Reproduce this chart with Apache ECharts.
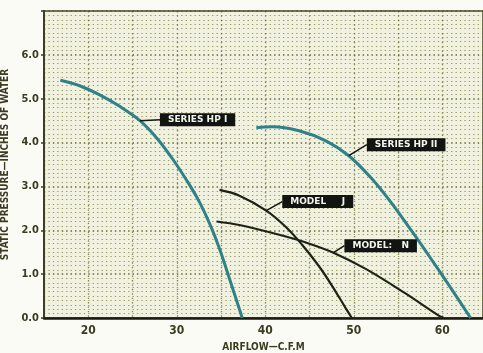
<!DOCTYPE html>
<html>
<head>
<meta charset="utf-8">
<script src="https://cdn.jsdelivr.net/npm/echarts@6/dist/echarts.min.js"></script>
<style>
html,body{margin:0;padding:0;background:#fbfbf6;}
#c{width:483px;height:353px;}
</style>
</head>
<body>
<div id="c"></div>
<script>
// ---- data ----
const xTickLabels = [20, 30, 40, 50, 60];
const yTickLabels = ['0.0','1.0','2.0','3.0','4.0','5.0','6.0'];

const hp1X = [16.85, 19.1, 21.35, 23.6, 25.84, 27.75, 29.55, 31.46, 32.6, 33.8, 34.9, 35.95, 37.4];
const hp1Y = [5.42, 5.29, 5.08, 4.82, 4.50, 4.10, 3.62, 3.03, 2.63, 2.11, 1.54, 0.90, 0.0];

const hp2X = [38.99, 40.79, 43.82, 46.85, 49.44, 52.02, 54.27, 56.52, 58.76, 61.01, 63.2];
const hp2Y = [4.34, 4.36, 4.27, 4.04, 3.70, 3.18, 2.62, 1.99, 1.34, 0.67, 0.0];

const modelJX = [34.83, 37.08, 40.11, 42.36, 44.16, 46.07, 47.53, 49.1, 49.78];
const modelJY = [2.92, 2.79, 2.45, 2.07, 1.67, 1.18, 0.74, 0.22, 0.0];

const modelNX = [34.49, 37.08, 41.91, 44.61, 47.7, 51.35, 55.84, 59.55, 60.2];
const modelNY = [2.20, 2.12, 1.88, 1.72, 1.49, 1.12, 0.56, 0.06, 0.0];

const labelNames = ['SERIES HP I', 'SERIES HP II', 'MODEL     J', 'MODEL:   N'];
const labelAnchorIdx = [4, 4, 2, 4];

// ---- chart ----
const chart = echarts.init(document.getElementById('c'), null, {renderer: 'canvas'});
const FONT = '"Liberation Sans Narrow", "DejaVu Sans Condensed", "Roboto", sans-serif';
const AXC = '#3b3b22';

function mk(xs, ys, li) {
  return xs.map((x, i) => {
    const item = {value: [x, ys[i]]};
    if (i === labelAnchorIdx[li]) {
      item.label = {
        show: true,
        formatter: labelNames[li],
        position: 'right',
        distance: 0,
        color: '#f4f4ee',
        backgroundColor: '#111410',
        fontFamily: '"DejaVu Sans", sans-serif',
        fontWeight: 'bold',
        fontSize: 9,
        lineHeight: 10,
        padding: [2, 8, 1, 8]
      };
    }
    return item;
  });
}

const layouts = [
  {dx: 20, dy: -1},
  {dx: 18, dy: -11},
  {dx: 16, dy: -9},
  {dx: 11, dy: -7}
];

function series(xs, ys, li, color, width) {
  return {
    type: 'line',
    data: mk(xs, ys, li),
    smooth: 0.35,
    symbol: 'circle',
    symbolSize: 0,
    showSymbol: true,
    showAllSymbol: true,
    lineStyle: {color: color, width: width},
    itemStyle: {color: color},
    labelLayout: layouts[li],
    labelLine: {show: true, lineStyle: {color: '#111410', width: 1.5}},
    emphasis: {disabled: true},
    z: 3
  };
}

const option = {
  animation: false,
  backgroundColor: '#fbfbf6',
  grid: {
    left: 44, right: 0, top: 11, bottom: 35,
    containLabel: false,
    outerBoundsMode: 'none',
    show: true, backgroundColor: '#f1f1e0',
    borderColor: '#4a4a2c', borderWidth: 1.5
  },
  xAxis: {
    type: 'value', min: 15, max: 64.6, interval: 5,
    name: 'AIRFLOW—C.F.M', nameLocation: 'middle', nameGap: 24,
    nameTextStyle: {fontFamily: FONT, fontWeight: 'bold', fontSize: 10, color: AXC},
    axisLine: {show: true, lineStyle: {color: '#1a1a10', width: 2.5}},
    axisTick: {show: false},
    axisLabel: {
      fontFamily: FONT, fontWeight: 'bold', fontSize: 12, color: AXC, margin: 7,
      formatter: v => (xTickLabels.indexOf(v) >= 0 ? String(v) : '')
    },
    splitLine: {show: true, lineStyle: {color: 'rgba(95,95,40,0.75)', width: 1.3, type: [1.4, 3.01]}},
    minorTick: {show: false, splitNumber: 10},
    minorSplitLine: {show: false}
  },
  yAxis: {
    type: 'value', min: 0, max: 7, interval: 1,
    name: 'STATIC PRESSURE—INCHES OF WATER', nameLocation: 'middle', nameGap: 30,
    nameTextStyle: {fontFamily: FONT, fontWeight: 'bold', fontSize: 10, color: AXC},
    axisLine: {show: true, lineStyle: {color: '#3e3e22', width: 2}},
    axisTick: {show: true, length: 3, inside: false, lineStyle: {color: '#3e3e22', width: 1.5}},
    axisLabel: {
      fontFamily: FONT, fontWeight: 'bold', fontSize: 11, color: AXC, margin: 5,
      formatter: v => yTickLabels[Math.round(v)] || ''
    },
    splitLine: {show: true, lineStyle: {color: 'rgba(80,80,30,0.85)', width: 1.5, type: [1.5, 2.925]}},
    minorTick: {show: false, splitNumber: 10},
    minorSplitLine: {show: true, lineStyle: {color: 'rgba(105,105,45,0.65)', width: 1.2, type: [1.3, 3.125]}}
  },
  series: [
    series(hp1X, hp1Y, 0, '#2f8188', 3),
    series(hp2X, hp2Y, 1, '#2f8188', 3),
    series(modelJX, modelJY, 2, '#1d2314', 2.2),
    series(modelNX, modelNY, 3, '#1d2314', 2.2)
  ]
};
chart.setOption(option);
</script>
</body>
</html>
